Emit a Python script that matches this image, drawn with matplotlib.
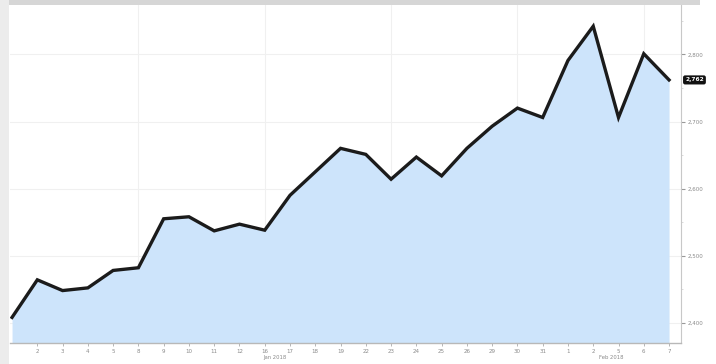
import matplotlib
matplotlib.use("Agg")
import matplotlib.pyplot as plt
from matplotlib.patches import Rectangle
from matplotlib.ticker import MultipleLocator, FuncFormatter

# daily closes (first point has no label)
day_labels = ["", "2", "3", "4", "5", "8", "9", "10", "11", "12", "16", "17", "18",
              "19", "22", "23", "24", "25", "26", "29", "30", "31", "1", "2", "5", "6", "7"]
values = [2408, 2464, 2448, 2452, 2478, 2482, 2555, 2558, 2537, 2547, 2538, 2590,
          2625, 2660, 2651, 2614, 2647, 2619, 2660, 2693, 2720, 2706, 2791, 2842,
          2706, 2801, 2762]
month_labels = ["Jan 2018", "Feb 2018"]
month_pos = [10.4, 23.7]
y_ticks = [2400, 2500, 2600, 2700, 2800]

fill_color = "#cde4fb"
line_color = "#1b1b1b"
text_color = "#8a8a8a"

x = list(range(len(values)))

fig = plt.figure(figsize=(7.16, 3.64), dpi=100)
fig.patch.set_facecolor("white")

# page chrome: grey strip on the left and band across the top
fig.patches.append(Rectangle((0, 0), 0.012, 1, transform=fig.transFigure,
                             facecolor="#ececec", edgecolor="none", zorder=0))
fig.patches.append(Rectangle((0.012, 0.985), 0.965, 0.015, transform=fig.transFigure,
                             facecolor="#d6d6d6", edgecolor="none", zorder=0))

ax = fig.add_axes([0.014, 0.058, 0.937, 0.927])
ax.set_facecolor("white")
ax.set_xlim(-0.08, 26.47)
ax.set_ylim(2370, 2873)

ax.fill_between(x, values, 2370, color=fill_color, lw=0, zorder=2)
ax.plot(x, values, color=line_color, lw=2.4, solid_joinstyle="miter", zorder=3)

# faint grid
for yt in y_ticks:
    ax.axhline(yt, color="#f0f0f0", lw=0.8, zorder=1)
for xi in [5, 10, 15, 20, 25]:
    ax.axvline(xi, color="#f0f0f0", lw=0.8, zorder=1)

# y axis on the right
ax.yaxis.tick_right()
ax.set_yticks(y_ticks)
ax.yaxis.set_minor_locator(MultipleLocator(50))
ax.yaxis.set_major_formatter(FuncFormatter(lambda v, p: f"{int(v):,}"))
ax.tick_params(axis="y", which="major", length=3, width=0.8, color="#999999",
               labelsize=4, labelcolor=text_color, pad=1.5)
ax.tick_params(axis="y", which="minor", length=1.5, width=0.5, color="#cccccc")

ax.set_xticks(x[1:])
ax.set_xticklabels(day_labels[1:])
ax.tick_params(axis="x", length=2.5, width=0.6, color="#aaaaaa",
               labelsize=4, labelcolor=text_color, pad=2)

for s in ["top", "left"]:
    ax.spines[s].set_visible(False)
ax.spines["right"].set_color("#c8c8c8")
ax.spines["right"].set_linewidth(0.8)
ax.spines["bottom"].set_color("#b8b8b8")
ax.spines["bottom"].set_linewidth(1.0)

for lab, pos in zip(month_labels, month_pos):
    ax.annotate(lab, xy=(pos, 0), xycoords=("data", "axes fraction"),
                xytext=(0, -10.8), textcoords="offset points", ha="center", va="center",
                fontsize=3.8, color=text_color, annotation_clip=False)

# last value marker on the axis
ax.annotate(f"{values[-1]:,}", xy=(1.0, values[-1]), xycoords=("axes fraction", "data"),
            xytext=(3, 0), textcoords="offset points", ha="left", va="center",
            fontsize=4.2, color="white", fontweight="bold", annotation_clip=False,
            bbox=dict(boxstyle="round,pad=0.35", fc="#111111", ec="none"))

fig.savefig("out.png", dpi=100)
